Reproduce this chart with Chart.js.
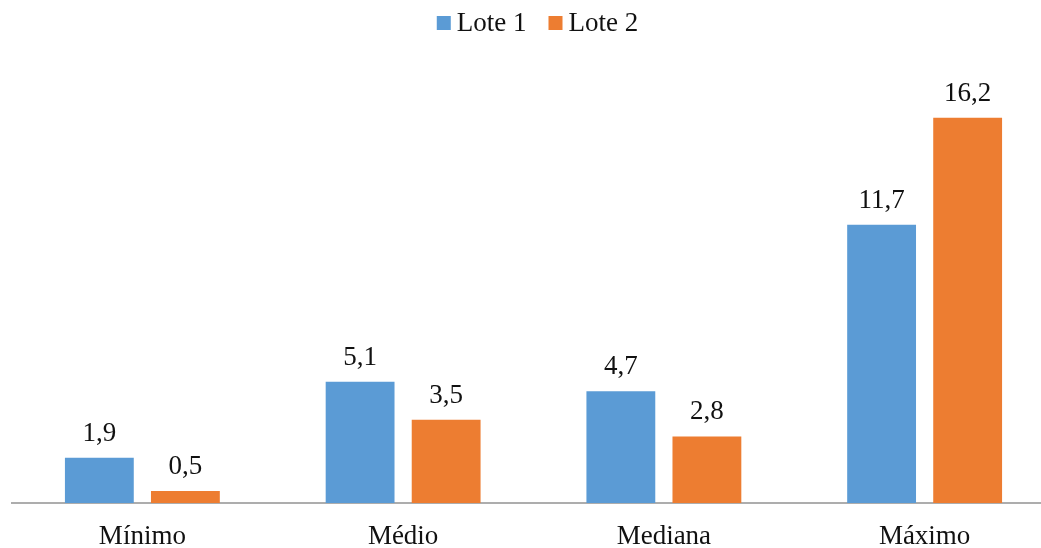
<!DOCTYPE html>
<html>
<head>
<meta charset="utf-8">
<script src="https://cdn.jsdelivr.net/npm/chart.js@4/dist/chart.umd.min.js"></script>
<style>
  html, body { margin: 0; padding: 0; background: #fff; overflow: hidden; }
  #wrap { position: relative; width: 1067px; height: 548px; }
</style>
</head>
<body>
<div id="wrap"><canvas id="chart"></canvas></div>
<script>
// Categories and series
const categories = ['Mínimo', 'Médio', 'Mediana', 'Máximo'];
const lote1 = [1.9, 5.1, 4.7, 11.7];
const lote2 = [0.5, 3.5, 2.8, 16.2];
const seriesNames = ['Lote 1', 'Lote 2'];
const seriesColors = ['#5B9BD5', '#ED7D31'];

const FONT = '"Liberation Serif", "Times New Roman", serif';
const FONT_SIZE = 27;
const TEXT_COLOR = '#111111';

const fmt = v => v.toFixed(1).replace('.', ',');

// Value labels above every bar
const valueLabels = {
  id: 'valueLabels',
  afterDatasetsDraw(chart) {
    const ctx = chart.ctx;
    ctx.save();
    ctx.font = FONT_SIZE + 'px ' + FONT;
    ctx.fillStyle = TEXT_COLOR;
    ctx.textAlign = 'center';
    ctx.textBaseline = 'alphabetic';
    chart.data.datasets.forEach((ds, i) => {
      chart.getDatasetMeta(i).data.forEach((bar, j) => {
        ctx.fillText(fmt(ds.data[j]), bar.x, bar.y - 17);
      });
    });
    ctx.restore();
  }
};

// Legend centred across the top
const topLegend = {
  id: 'topLegend',
  afterDraw(chart) {
    const ctx = chart.ctx;
    const box = 14, gapText = 6, gapItem = 22, cy = 23;
    ctx.save();
    ctx.font = FONT_SIZE + 'px ' + FONT;
    const items = chart.data.datasets.map(ds => ({
      label: ds.label, color: ds.backgroundColor, w: ctx.measureText(ds.label).width
    }));
    const total = items.reduce((s, it) => s + box + gapText + it.w, 0) + gapItem * (items.length - 1);
    let x = (chart.chartArea.left + chart.chartArea.right) / 2 - total / 2 + 4;
    ctx.textBaseline = 'middle';
    ctx.textAlign = 'left';
    items.forEach(it => {
      ctx.fillStyle = it.color;
      ctx.fillRect(x, cy - box / 2, box, box);
      x += box + gapText;
      ctx.fillStyle = TEXT_COLOR;
      ctx.fillText(it.label, x, cy + 1);
      x += it.w + gapItem;
    });
    ctx.restore();
  }
};

new Chart(document.getElementById('chart'), {
  type: 'bar',
  data: {
    labels: categories,
    datasets: [
      { label: seriesNames[0], data: lote1, backgroundColor: seriesColors[0] },
      { label: seriesNames[1], data: lote2, backgroundColor: seriesColors[1] }
    ]
  },
  options: {
    responsive: true,
    maintainAspectRatio: false,
    animation: false,
    devicePixelRatio: 1,
    categoryPercentage: 0.66,
    barPercentage: 0.8,
    layout: { padding: { top: 75, left: 12, right: 12, bottom: 0 } },
    plugins: {
      legend: { display: false },
      tooltip: { enabled: false }
    },
    scales: {
      x: {
        grid: { display: false, drawTicks: false },
        border: { display: true, color: '#ADADAD', width: 2 },
        ticks: {
          color: TEXT_COLOR,
          font: { family: FONT, size: FONT_SIZE },
          padding: 18
        },
        afterFit(scale) { scale.height = 45; }
      },
      y: {
        display: false,
        min: 0,
        max: 18
      }
    }
  },
  plugins: [valueLabels, topLegend]
});
</script>
</body>
</html>
